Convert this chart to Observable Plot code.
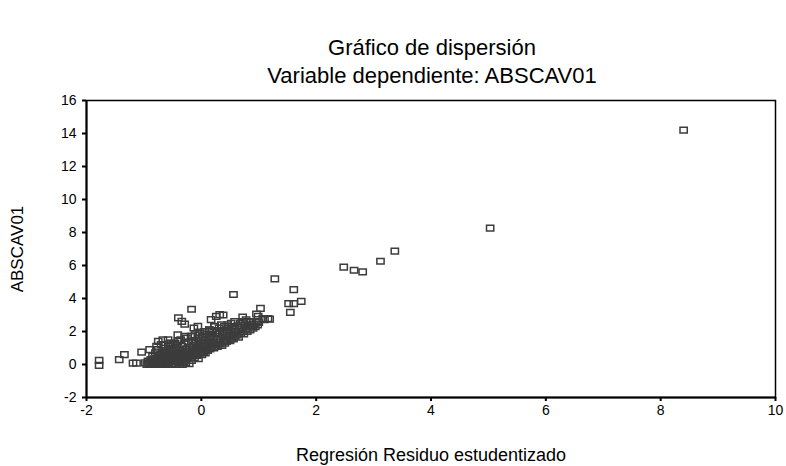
<!DOCTYPE html>
<html>
<head>
<meta charset="utf-8">
<script src="https://cdn.jsdelivr.net/npm/d3@7"></script>
<script src="https://cdn.jsdelivr.net/npm/@observablehq/plot@0.6"></script>
<style>
  body { margin: 0; background: #fff; font-family: "Liberation Sans", Arial, sans-serif; }
  #wrap { width: 786px; height: 466px; position: relative; overflow: hidden; }
  #head { height: 90px; width: 786px; position: relative; color: #000; }
  #title, #subtitle { position: absolute; left: 0; width: 864px; text-align: center; font-size: 22px; line-height: 24px; }
  #title { top: 36px; }
  #subtitle { top: 64px; }
  svg { display: block; }
</style>
</head>
<body>
<div id="wrap">
  <div id="head">
    <div id="title">Gráfico de dispersión</div>
    <div id="subtitle">Variable dependiente: ABSCAV01</div>
  </div>
  <div id="chart"></div>
</div>
<script>
// Data: studentized residual (x) vs ABSCAV01 (y)
const residuo = [
  // sparse / outlying points
  -1.78, -1.78, -1.43, -1.34, -1.19, -1.13, -1.04, -0.90, -0.78, -0.67, -0.58, -0.52, -0.75,
  -0.40, -0.34, -0.29, -0.17, -0.13, -0.06, 0.56, 1.28, 1.61, 1.52, 1.61, 1.74, 1.55, 1.03,
  0.96, 0.99, 1.10, 1.19, 1.16, 1.07, 2.48, 2.66, 2.81, 3.12, 3.37, 5.03, 8.40,
  // upper edge of the main band
  0.06, 0.14, 0.23, 0.17, 0.26, 0.32, 0.38, 0.72, -0.41, -0.29, -0.17, -0.03, -0.55, -0.46,
  // dense band
  -0.98, -0.95, -0.93, -0.90, -0.88, -0.86, -0.85, -0.83, -0.82, -0.80, -0.80,
  -0.78, -0.77, -0.76, -0.75, -0.74, -0.72, -0.71, -0.70, -0.69, -0.68, -0.67, -0.66, -0.65, -0.64, -0.63, -0.62, -0.61, -0.60,
  -0.59, -0.58, -0.57, -0.56, -0.55, -0.54, -0.53, -0.52, -0.51, -0.50, -0.49, -0.48, -0.47, -0.46, -0.45, -0.44, -0.43, -0.42, -0.41, -0.40,
  -0.39, -0.38, -0.37, -0.36, -0.35, -0.34, -0.33, -0.32, -0.31, -0.30, -0.29, -0.28, -0.27, -0.26, -0.25, -0.24, -0.23, -0.22, -0.21, -0.20,
  -0.19, -0.18, -0.17, -0.16, -0.15, -0.14, -0.13, -0.12, -0.11, -0.10, -0.09, -0.08, -0.07, -0.06, -0.05, -0.04, -0.03, -0.02, -0.01, 0.00,
  0.01, 0.02, 0.03, 0.04, 0.05, 0.06, 0.07, 0.08, 0.09, 0.10, 0.11, 0.12, 0.13, 0.14, 0.15, 0.16, 0.17, 0.18, 0.19, 0.20,
  0.21, 0.22, 0.23, 0.24, 0.25, 0.26, 0.27, 0.28, 0.29, 0.30, 0.31, 0.32, 0.33, 0.34, 0.35, 0.36, 0.37, 0.38, 0.39, 0.40,
  0.41, 0.42, 0.43, 0.44, 0.45, 0.46, 0.47, 0.48, 0.49, 0.50, 0.51, 0.52, 0.53, 0.54, 0.55, 0.56, 0.57, 0.58, 0.59, 0.60,
  0.62, 0.63, 0.65, 0.66, 0.68, 0.69, 0.70, 0.72, 0.73, 0.74, 0.76, 0.77, 0.78, 0.80,
  0.82, 0.84, 0.85, 0.87, 0.88, 0.90, 0.92, 0.94, 0.96, 0.98, 1.00,
  // extra points filling the dark lower cluster
  -0.92, -0.87, -0.84, -0.79, -0.76, -0.73, -0.70, -0.68, -0.65, -0.62, -0.60, -0.57, -0.55, -0.52, -0.50, -0.47, -0.45, -0.42, -0.39, -0.37,
  -0.35, -0.32, -0.30, -0.27, -0.25, -0.22, -0.19, -0.16, -0.14, -0.11, -0.08, -0.05, -0.02, 0.02, 0.05, 0.08, 0.11, 0.15, 0.18, 0.22
];
const abscav = [
  0.25, -0.05, 0.30, 0.60, 0.08, 0.08, 0.75, 0.90, 1.10, 1.50, 1.50, 1.30, 1.40,
  2.83, 2.61, 2.45, 3.35, 2.21, 2.31, 4.24, 5.19, 4.54, 3.69, 3.69, 3.83, 3.16, 3.40,
  3.06, 2.92, 2.72, 2.75, 2.78, 2.78, 5.90, 5.71, 5.61, 6.26, 6.87, 8.27, 14.20,
  2.00, 2.10, 2.31, 2.72, 2.92, 3.02, 3.00, 2.88, 1.80, 1.70, 1.70, 1.80, 1.29, 1.29,
  0.10, 0.00, 0.20, 0.05, 0.30, 0.15, 0.50, 0.00, 0.35, 0.70, 0.10,
  0.00, 0.25, 0.45, 0.90, 0.10, 0.60, 0.30, 1.20, 0.00, 0.15, 0.75, 0.40, 1.00, 0.05, 0.55, 0.25, 0.85, 0.10,
  0.40, 0.00, 1.10, 0.20, 0.65, 0.95, 0.30, 0.05, 0.50, 0.80, 1.20, 0.15, 0.60, 0.35, 1.00, 0.00, 0.70, 0.25, 1.40, 0.45,
  0.10, 0.85, 0.55, 1.50, 0.30, 1.10, 0.00, 0.70, 0.20, 1.25, 0.45, 0.95, 0.10, 1.60, 0.60, 0.35, 1.35, 0.80, 0.05, 1.05,
  0.50, 1.70, 0.25, 0.90, 1.40, 0.65, 1.15, 0.40, 1.80, 0.80, 1.30, 0.55, 1.00, 1.60, 0.35, 1.20, 0.75, 1.90, 0.95, 1.45,
  0.60, 1.10, 1.70, 0.80, 1.30, 2.00, 0.70, 1.50, 1.00, 1.85, 0.85, 1.20, 1.60, 2.10, 0.95, 1.40, 1.75, 1.10, 2.00, 1.30,
  1.60, 1.00, 2.30, 1.85, 1.20, 1.50, 2.05, 1.10, 1.70, 1.35, 2.20, 1.90, 1.25, 1.55, 2.40, 1.15, 1.80, 2.00, 1.45, 2.30,
  1.30, 1.65, 2.10, 1.40, 1.90, 2.40, 1.50, 2.20, 1.75, 1.45, 2.00, 2.50, 1.60, 2.30, 1.85, 1.55, 2.15, 2.60, 1.70, 2.00,
  1.80, 2.35, 1.65, 2.10, 2.50, 1.90, 2.25, 2.00, 2.60, 1.85, 2.40, 2.15, 2.70, 2.00,
  2.30, 2.55, 2.10, 2.60, 2.35, 2.20, 2.45, 2.30, 2.60, 2.40, 2.55,
  0.08, 0.00, 0.22, 0.05, 0.15, 0.35, 0.50, 0.02, 0.20, 0.45, 0.65, 0.10, 0.30, 0.55, 0.00, 0.40, 0.20, 0.60, 0.30, 0.00,
  0.75, 0.45, 0.15, 0.35, 0.80, 0.55, 0.65, 0.45, 0.90, 0.60, 0.85, 1.05, 0.70, 0.95, 1.15, 0.90, 1.25, 1.05, 1.35, 1.20
];
const xTicks = [-2, 0, 2, 4, 6, 8, 10];
const yTicks = [-2, 0, 2, 4, 6, 8, 10, 12, 14, 16];
const xLabel = "Regresión Residuo estudentizado";
const yLabel = "ABSCAV01";

const points = residuo.map((x, i) => ({x, y: abscav[i]}));

// small hollow rectangle (slightly wider than tall), like the SPSS marker
const boxSymbol = {
  draw(context, size) {
    const w = Math.sqrt(size) * 1.0, h = w * 0.78;
    context.moveTo(-w / 2, -h / 2);
    context.lineTo(w / 2, -h / 2);
    context.lineTo(w / 2, h / 2);
    context.lineTo(-w / 2, h / 2);
    context.closePath();
  }
};

const fmt = d => String(d); // ASCII hyphen for negatives, as in the reference

const chart = Plot.plot({
  width: 786,
  height: 376,
  marginTop: 10,
  marginBottom: 69,
  marginLeft: 86,
  marginRight: 11,
  style: {fontFamily: "'Liberation Sans', Arial, sans-serif", background: "#fff", color: "#000"},
  x: {domain: [-2, 10]},
  y: {domain: [-2, 16]},
  marks: [
    Plot.frame({stroke: "#000", strokeWidth: 1.5}),
    Plot.ruleX([-2], {stroke: "#000", strokeWidth: 2}),
    Plot.ruleY([-2], {stroke: "#000", strokeWidth: 2}),
    Plot.axisX(xTicks, {tickSize: 4, tickPadding: 4, fontSize: 14, strokeWidth: 2, label: null, tickFormat: fmt}),
    Plot.axisY(yTicks, {tickSize: 4, tickPadding: 6, fontSize: 14, strokeWidth: 2, label: null, tickFormat: fmt}),
    Plot.dot(points, {x: "x", y: "y", symbol: boxSymbol, r: 4.1, stroke: "#3c3c3c", strokeWidth: 1.5, fill: "none"}),
    Plot.text([xLabel], {frameAnchor: "bottom", dy: 63, fontSize: 18, fill: "#000"}),
    Plot.text([yLabel], {frameAnchor: "left", textAnchor: "middle", rotate: -90, dx: -69, fontSize: 17, fill: "#000"})
  ]
});
document.getElementById("chart").appendChild(chart);
</script>
</body>
</html>
